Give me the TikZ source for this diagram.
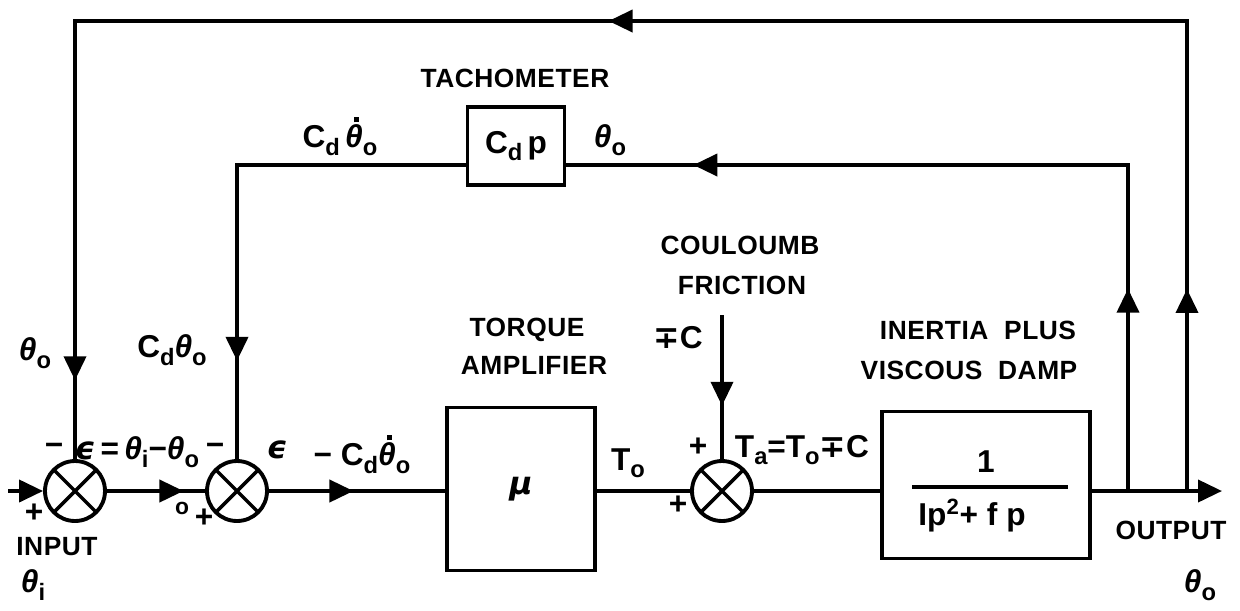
\documentclass[tikz,border=0pt]{standalone}
\usepackage{fontspec}
\setmainfont{Liberation Sans}
\newfontfamily\capsf{Liberation Sans}[LetterSpace=2]
\newfontfamily\grk{DejaVu Sans}
\usetikzlibrary{arrows.meta,decorations.markings}

\newcommand{\lo}[1]{\raisebox{-.45ex}{\fontsize{13.5}{13.5}\selectfont #1}}
\newcommand{\gk}[1]{{\grk\bfseries\itshape #1}}
\newcommand{\tho}{{\itshape θ}}
\newcommand{\thd}{\ooalign{\tho\cr\hidewidth\hspace{.15em}\raisebox{.8em}{\rule{.16em}{.16em}}\hidewidth\cr}}

\begin{document}
\begin{tikzpicture}[x=0.02cm,y=-0.02cm,line width=2.2pt,
  tri/.tip={Triangle[length=0.48cm,width=0.44cm]},
  summer/.style={circle,draw,minimum size=1.2cm,inner sep=0pt,
    path picture={\draw[line width=2pt]
      (path picture bounding box.center) ++(45:1cm) -- ++(225:2cm)
      (path picture bounding box.center) ++(135:1cm) -- ++(315:2cm);}},
  blk/.style={draw,inner sep=0pt,font=\bfseries\fontsize{18}{20}\selectfont},
  arrowat/.style={postaction={decorate,decoration={markings,
    mark=at position #1 with {\arrow{tri}}}}},
  lbl/.style={inner sep=0pt,font=\capsf\bfseries\fontsize{15}{17}\selectfont},
  sym/.style={inner sep=0pt,font=\bfseries\fontsize{18}{20}\selectfont}]
 \useasboundingbox (0,0) rectangle (1240,610);
 % summing points and blocks
 \node[summer] (s1) at (75,491) {};
 \node[summer] (s2) at (237,491) {};
 \node[summer] (s3) at (722,491) {};
 \node[blk,minimum width=2.96cm,minimum height=3.26cm] (amp) at (521,489) {\gk{μ}};
 \node[blk,minimum width=1.94cm,minimum height=1.56cm] (tach) at (516,146) {C\lo{d}\,p};
 \node[blk,minimum width=4.16cm,minimum height=2.94cm] (plant) at (986,485) {};
 \coordinate (in) at (8,491);
 \coordinate (out) at (1222,491);
 \coordinate (b1) at (1128,491);
 \coordinate (b2) at (1187,491);
 \coordinate (c1) at (1128,165);
 \coordinate (c2) at (237,165);
 \coordinate (c3) at (1187,21);
 \coordinate (c4) at (75,21);
 \coordinate (fr) at (722,315);
 % forward path
 \draw[-{tri}] (in) -- (s1);
 \draw[arrowat=0.78] (s1) -- (s2);
 \draw[arrowat=0.48] (s2) -- (s2 -| amp.west);
 \draw (s3 -| amp.east) -- (s3);
 \draw (s3) -- (s3 -| plant.west);
 \draw[-{tri}] (s3 -| plant.east) -- (out);
 \draw[arrowat=0.63] (fr) -- (s3);
 % feedback loops
 \draw[arrowat=0.228,arrowat=0.857] (b1) -- (c1) -- (c1 -| tach.east);
 \draw[arrowat=0.812] (c2 -| tach.west) -- (c2) -- (s2);
 \draw[arrowat=0.100,arrowat=0.519,arrowat=0.961] (b2) -- (c3) -- (c4) -- (s1);
 % plant fraction
 \node[sym] (num) at (986,462) {1};
 \draw[line width=2pt] (912,487) -- (1068,487);
 \node[sym] (den) at (972,516) {Ip\textsuperscript{2}+ f p};
 % labels
 \node[lbl] (ltach) at (515,78) {TACHOMETER};
 \node[sym] (lrate) at (340,140) {C\lo{d}\,\thd\lo{o}};
 \node[sym] (lout1) at (610,140) {\tho\lo{o}};
 \node[lbl] (lcoul) at (740,245) {COULOUMB};
 \node[lbl] (lfric) at (742,285) {FRICTION};
 \node[lbl] (ltorq) at (527,330) {TORQUE};
 \node[lbl] (lampl) at (534,365) {AMPLIFIER};
 \node[sym] (lmpc) at (678,338) {{\grk ∓}C};
 \node[lbl] (linert) at (978,330) {INERTIA\ \ PLUS};
 \node[lbl] (lvisc) at (969,370) {VISCOUS\ \ DAMP};
 \node[sym] (lout2) at (35,353) {\tho\lo{o}};
 \node[sym] (lcdo) at (172,350) {C\lo{d}\tho\lo{o}};
 \node[sym] (lm1) at (54,449) {−};
 \node[sym] (lerr) at (137,452) {\gk{ϵ}\,=\,\tho\lo{i}−\tho\lo{o}};
 \node[sym] (lm2) at (215,449) {−};
 \node[sym] (leps) at (277,450) {\gk{ϵ}};
 \node[sym] (lneg) at (362,458) {−\ C\lo{d}\thd\lo{o}};
 \node[sym] (lp1) at (34,513) {+};
 \node[lbl] (lin) at (57,547) {INPUT};
 \node[sym] (lthi) at (33,585) {\tho\lo{i}};
 \node[sym] (lzero) at (182,508) {\fontsize{13}{13}\selectfont o};
 \node[sym] (lp2) at (204,518) {+};
 \node[sym] (lto) at (628,463) {T\lo{o}};
 \node[sym] (lp3) at (698,447) {+};
 \node[sym] (lp4) at (678,505) {+};
 \node[sym] (lta) at (802,450) {T\lo{a}{=}T\lo{o}{\grk ∓}C};
 \node[lbl] (lout) at (1171,530) {OUTPUT};
 \node[sym] (lthe) at (1200,585) {\tho\lo{o}};
\end{tikzpicture}
\end{document}
